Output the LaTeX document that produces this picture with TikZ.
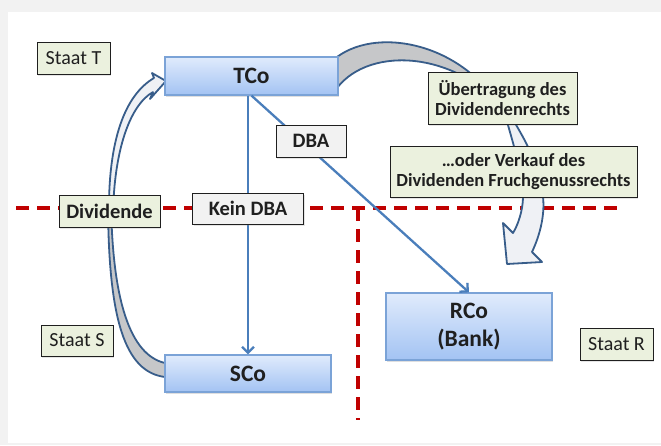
\documentclass[tikz,border=0pt]{standalone}
\usepackage{fontspec}
\setmainfont{Carlito}
\usetikzlibrary{arrows.meta,shadows}
\definecolor{conn}{HTML}{4A7EBB}
\definecolor{darkb}{HTML}{385D8A}
\definecolor{dred}{HTML}{C00000}
\definecolor{lgreen}{HTML}{EBF1DE}
\definecolor{lgray}{HTML}{F2F2F2}
\definecolor{txt}{HTML}{1F1F1F}
\definecolor{bluetop}{HTML}{E0EBFC}
\definecolor{bluebot}{HTML}{A3C3F3}
\definecolor{blueedge}{HTML}{7BA3D7}
\definecolor{backgray}{HTML}{C6C7C9}
\definecolor{frontfill}{HTML}{EFF1F5}
\tikzset{
  bluebox/.style={draw=blueedge, line width=1.2pt, top color=bluetop, bottom color=bluebot,
    text=txt, font=\fontsize{23.5}{28}\selectfont\bfseries, align=center, inner sep=0pt,
    drop shadow={shadow xshift=1pt, shadow yshift=-1.5pt, opacity=0.25}},
  greenbox/.style={draw=txt, line width=1pt, fill=lgreen, text=txt, align=center, inner sep=0pt,
    drop shadow={shadow xshift=1pt, shadow yshift=-1.5pt, opacity=0.2}},
  graybox/.style={draw=txt, line width=1pt, fill=lgray, text=txt, align=center, inner sep=0pt,
    font=\fontsize{20.5}{22}\selectfont\bfseries,
    drop shadow={shadow xshift=1pt, shadow yshift=-1.5pt, opacity=0.2}},
  staat/.style={greenbox, font=\fontsize{20}{22}\selectfont},
  conline/.style={draw=conn, line width=2.3pt, -{Straight Barb[length=6pt,width=12pt,line width=2.3pt]}},
  redline/.style={draw=dred, line width=3.4pt, dash pattern=on 13pt off 8pt},
  blockback/.style={draw=darkb, line width=1.8pt, fill=backgray, line join=round},
  blockfront/.style={draw=darkb, line width=1.8pt, fill=frontfill, line join=round},
}
\begin{document}
\begin{tikzpicture}[x=1pt,y=-1pt]
\useasboundingbox (0,0) rectangle (661,445);
\fill[lgray] (0,0) rectangle (661,445);
\fill[white] (8,12) rectangle (661,443);

% dashed borders
\coordinate (hl) at (16,208);
\coordinate (hr) at (622,208);
\coordinate (vt) at (358,208);
\coordinate (vb) at (358,420);
\draw[redline] (hl) -- (hr);
\draw[redline] (vt) -- (vb);

\path
  node[staat, minimum width=73pt, minimum height=32pt] (staatT) at (73.5,58) {Staat T}
  node[staat, minimum width=72pt, minimum height=31pt] (staatS) at (77,340.5) {Staat S}
  node[staat, minimum width=73pt, minimum height=32pt] (staatR) at (616.5,344) {Staat R};

% right block arrow (transfer)
\draw[blockback] (337,57) .. controls (380,25) and (470,45) .. (506,118)
   -- (512,118) .. controls (460,50) and (370,45) .. (337,88) -- cycle;
\draw[blockfront] (506,118) .. controls (512,140) and (522,170) .. (523,197)
   .. controls (523,210) and (518,225) .. (513,233) -- (503,223) -- (507,264)
   -- (542,262) -- (532,252) .. controls (540,235) and (545,215) .. (543,197)
   .. controls (540,165) and (525,140) .. (512,118) -- cycle;

% left block arrow (Dividende)
\draw[blockback] (165,377) .. controls (125,372) and (108,320) .. (108,200)
   -- (111,200) .. controls (112,300) and (130,355) .. (165,363) -- cycle;
\draw[blockfront] (109,215) .. controls (108,140) and (125,95) .. (154,78)
   -- (152,73) -- (166,81) -- (150,99) -- (153,92)
   .. controls (130,105) and (114,150) .. (113,215) -- cycle;

% main company boxes
\node[bluebox, minimum width=173pt, minimum height=38pt] (tco) at (251.5,76) {TCo};
\node[bluebox, minimum width=166pt, minimum height=37pt] (sco) at (248,373.5) {SCo};
\node[bluebox, minimum width=166pt, minimum height=67pt] (rco) at (469,326.5) {RCo\\(Bank)};

% connectors
\draw[conline] (sco.north |- tco.south) -- (sco.north);
\draw[conline] (tco.south) -- (rco.north);

% labels on top
\node[graybox, minimum width=70pt, minimum height=32pt] (dba) at (311,141) {DBA};
\node[graybox, minimum width=111pt, minimum height=31pt] (keindba) at (248,208.5) {Kein DBA};
\node[greenbox, font=\fontsize{20.5}{22}\selectfont\bfseries, minimum width=101pt, minimum height=32pt] (dividende) at (109.5,211) {Dividende};
\node[greenbox, font=\fontsize{18.5}{20}\selectfont\bfseries, minimum width=149pt, minimum height=52pt] (ueb) at (502.5,98) {Übertragung des\\Dividendenrechts};
\node[greenbox, font=\fontsize{18.5}{20}\selectfont\bfseries, minimum width=247pt, minimum height=51pt] (verk) at (513.5,171.5) {…oder Verkauf des\\Dividenden Fruchgenussrechts};
\end{tikzpicture}
\end{document}
